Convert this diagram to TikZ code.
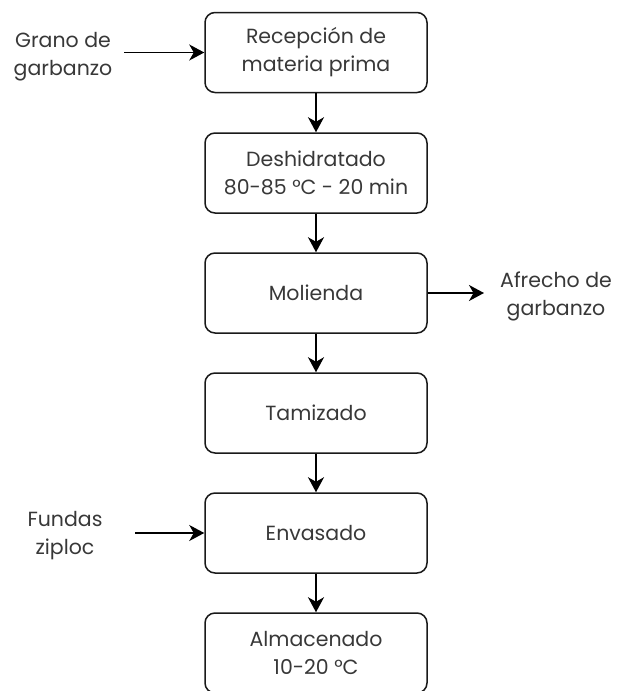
\documentclass[tikz,border=0pt]{standalone}
\usepackage{fontspec}
\setmainfont{Poppins}
\usetikzlibrary{arrows.meta}
\begin{document}
\begin{tikzpicture}[x=1pt,y=-1pt,
  proc/.style={draw=black!90, line width=1.5pt, rounded corners=10pt,
    minimum width=222pt, minimum height=80pt, align=center,
    font=\fontsize{20.5}{28}\selectfont, text=black!78, inner sep=0pt},
  lbl/.style={align=center, font=\fontsize{20.5}{28}\selectfont, text=black!78, inner sep=0pt},
  flow/.style={line width=1.5pt, draw=black, -{Stealth[length=15pt,width=16pt,inset=4.5pt]}}]
\useasboundingbox (0,0) rectangle (618,691);
\node[proc] (n1) at (316,52.5) {Recepción de\\materia prima};
\node[proc] (n2) at (316,173) {Deshidratado\\80-85 °C - 20 min};
\node[proc] (n3) at (316,293) {Molienda};
\node[proc] (n4) at (316,413) {Tamizado};
\node[proc] (n5) at (316,533) {Envasado};
\node[proc] (n6) at (316,653) {Almacenado\\10-20 °C};
\node[lbl] (grano) at (63,57) {Grano de\\garbanzo};
\node[lbl] (afrecho) at (556,296) {Afrecho de\\garbanzo};
\node[lbl] (fundas) at (65,536) {Fundas\\ziploc};
\coordinate (gin) at (124,52.5);
\coordinate (aout) at (484,293);
\coordinate (fin) at (135,533);
\draw[flow] (n1) -- (n2);
\draw[flow] (n2) -- (n3);
\draw[flow] (n3) -- (n4);
\draw[flow] (n4) -- (n5);
\draw[flow] (n5) -- (n6);
\draw[flow] (gin) -- (n1.west);
\draw[flow] (n3.east) -- (aout);
\draw[flow] (fin) -- (n5.west);
\end{tikzpicture}
\end{document}
